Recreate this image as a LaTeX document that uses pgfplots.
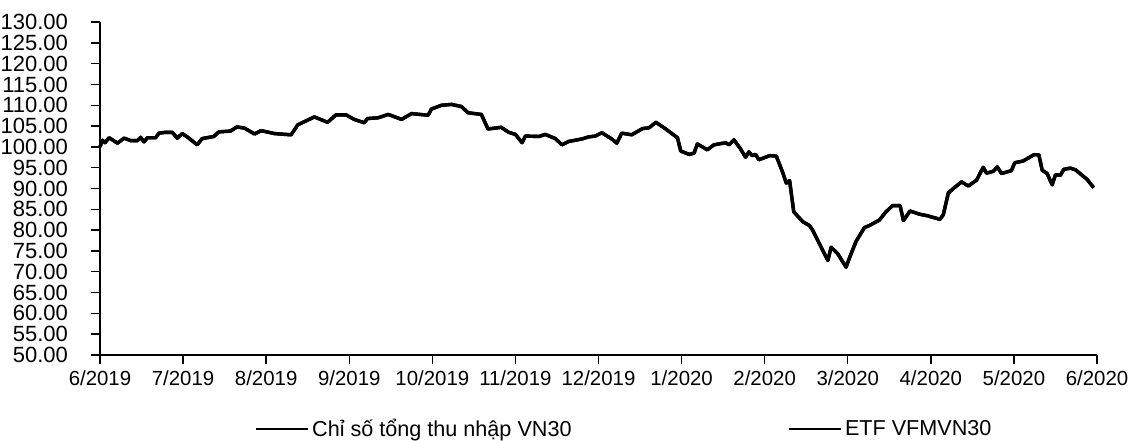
\documentclass[border=0pt]{standalone}
\usepackage{fontspec}
\setmainfont{Liberation Sans}
\usepackage{pgfplots}
\usepackage{pgfplotstable}
\pgfplotsset{compat=1.18}
\pgfplotstableread{
m v
0.00 100.0
0.03 101.6
0.06 101.0
0.11 102.2
0.21 100.9
0.29 102.1
0.37 101.5
0.45 101.5
0.49 102.3
0.53 101.2
0.57 102.2
0.67 102.2
0.71 103.3
0.79 103.5
0.87 103.5
0.93 102.1
0.99 103.2
1.05 102.4
1.17 100.5
1.23 102.0
1.37 102.5
1.43 103.6
1.57 103.8
1.65 104.8
1.74 104.5
1.86 103.1
1.94 103.9
2.10 103.2
2.30 102.9
2.38 105.3
2.58 107.2
2.74 105.9
2.84 107.7
2.96 107.7
3.06 106.6
3.18 105.8
3.22 106.8
3.35 107.0
3.47 107.8
3.63 106.6
3.75 108.0
3.95 107.6
3.99 109.1
4.11 110.0
4.23 110.2
4.35 109.7
4.43 108.2
4.59 107.8
4.67 104.3
4.83 104.7
4.92 103.5
5.00 103.0
5.08 101.0
5.12 102.6
5.28 102.5
5.36 103.0
5.48 102.0
5.56 100.5
5.64 101.3
5.80 101.9
5.88 102.4
5.96 102.6
6.04 103.4
6.16 101.9
6.22 100.9
6.28 103.3
6.40 102.9
6.53 104.4
6.61 104.6
6.69 105.9
6.81 104.3
6.95 102.2
6.99 99.0
7.09 98.2
7.15 98.5
7.19 100.7
7.31 99.3
7.39 100.5
7.53 101.0
7.57 100.5
7.63 101.7
7.71 99.5
7.77 97.5
7.81 98.8
7.85 97.9
7.89 98.2
7.93 96.9
8.06 97.9
8.14 97.8
8.22 93.7
8.26 91.3
8.30 91.9
8.35 84.4
8.46 82.0
8.54 81.1
8.58 79.9
8.66 76.7
8.76 72.7
8.80 75.9
8.88 74.3
8.98 71.1
9.02 73.3
9.10 77.3
9.20 80.6
9.26 81.1
9.38 82.4
9.46 84.4
9.54 85.9
9.63 85.9
9.67 82.3
9.75 84.6
9.87 83.8
9.95 83.5
10.11 82.6
10.15 83.7
10.21 88.9
10.27 90.0
10.37 91.6
10.45 90.6
10.55 92.0
10.63 95.1
10.67 93.7
10.75 94.1
10.80 95.2
10.85 93.6
10.97 94.3
11.01 96.2
11.11 96.6
11.24 98.1
11.30 98.1
11.34 94.4
11.40 93.6
11.46 90.9
11.50 93.3
11.56 93.2
11.60 94.6
11.68 94.9
11.74 94.5
11.82 93.2
11.88 92.2
11.96 90.2
}\datatable
\begin{document}
\begin{tikzpicture}
\useasboundingbox (-50pt,-42.5pt) rectangle (516.5pt,177.5pt);
\begin{axis}[
  at={(0pt,0pt)}, anchor=south west,
  scale only axis,
  width=498.5pt, height=166.5pt,
  xmin=0, xmax=12, ymin=50, ymax=130,
  axis lines=left,
  axis line style={-, line width=0.7pt},
  xtick={0,1,...,12},
  xticklabels={6/2019,7/2019,8/2019,9/2019,10/2019,11/2019,12/2019,1/2020,2/2020,3/2020,4/2020,5/2020,6/2020},
  ytick={50,55,...,130},
  yticklabel={\pgfmathprintnumber[fixed,fixed zerofill,precision=2]{\tick}},
  /pgf/number format/assume math mode=true,
  tick align=outside, major tick length=4.5pt,
  tick style={black, line width=0.7pt},
  xticklabel style={font=\fontsize{10.2}{12}\selectfont},
  yticklabel style={font=\fontsize{11}{12}\selectfont, xshift=-8pt},
  clip=false,
  legend columns=2,
  legend style={draw=none, fill=none, at={(77pt,-37pt)}, anchor=west,
    font=\fontsize{10.8}{12}\selectfont, inner sep=0pt,
    nodes={inner sep=1.5pt}},
  legend image code/.code={\draw[#1, line width=1.4pt] (0pt,0pt) -- (26pt,0pt);},
]
\addplot[black, line width=1.7pt, line join=round] table[x=m, y=v] {\datatable};
\addlegendentry{\makebox[236pt][l]{Chỉ số tổng thu nhập VN30}}
\addplot[black, line width=1.7pt, line join=round] table[x=m, y=v] {\datatable};
\addlegendentry{ETF VFMVN30}
\end{axis}
\end{tikzpicture}
\end{document}
